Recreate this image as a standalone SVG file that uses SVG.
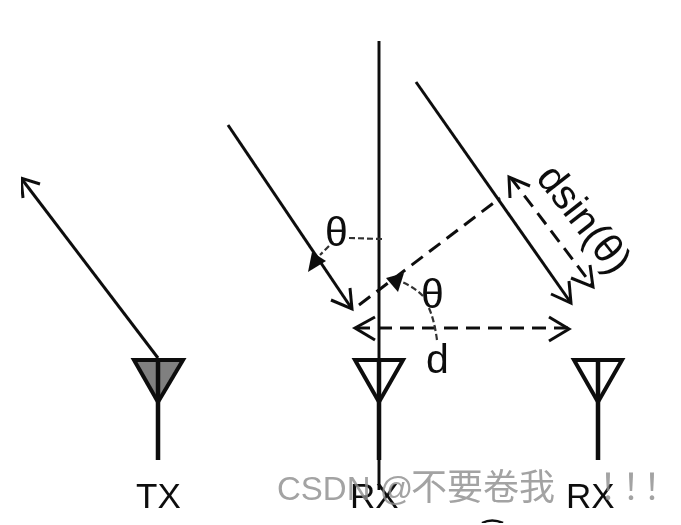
<svg xmlns="http://www.w3.org/2000/svg" width="681" height="525" viewBox="0 0 681 525">
<style>
text{font-family:"Liberation Sans",Arial,sans-serif;font-size:35px;fill:#111}
.big{font-size:41px}
.l{fill:none;stroke:#111;stroke-width:3;stroke-linecap:butt}
.h{fill:none;stroke:#111;stroke-width:3}
.d{fill:none;stroke:#111;stroke-width:3;stroke-dasharray:14 8}
.t{fill:none;stroke:#333;stroke-width:2.2;stroke-dasharray:6 3}
.a{fill:#fff;stroke:#111;stroke-width:4;stroke-linejoin:miter}
.s{fill:none;stroke:#111;stroke-width:4.5}
.wm{font-family:"Liberation Sans","Noto Sans CJK SC",sans-serif;font-size:36px;fill:#8c8c8c;fill-opacity:.8}
.wm tspan.c{font-size:33px}
</style>
<defs><filter id="soft" x="0" y="0" width="100%" height="100%"><feGaussianBlur stdDeviation="0.7"/></filter></defs>
<rect width="681" height="525" fill="#fff"/>
<g filter="url(#soft)">
<g id="connectors">
<path class="l" d="M379 41V490"/>
<path class="l" d="M158 358L21 178"/><path class="h" d="M23 198L21 178L40 184"/>
<path class="l" d="M228 125L352 309"/><path class="h" d="M350 288L352 309L331 300"/>
<path class="l" d="M416 82L571 303"/><path class="h" d="M569 281L571 303L551 294"/>
<path class="d" d="M359 305L500 198"/>
<path class="d" d="M511 178L592 285"/><path class="h" d="M510 198L509 177L530 186"/><path class="h" d="M590 265L593 287L571 278"/>
<path class="d" d="M356 328H568"/><path class="h" d="M375 317L355 328L375 340"/><path class="h" d="M549 317L569 329L549 341"/>
<path class="t" d="M382 239L349 238"/><path class="t" d="M329 246L320 255"/>
<path fill="#111" d="M308 272L312 252L326 261Z"/>
<path class="t" d="M437 340Q434 318 428 306"/><path class="t" d="M423 296Q414 287 402 282"/>
<path fill="#111" d="M386 278L404 273L398 292Z"/>
</g>
<g id="tx"><path d="M134 360H183L158 402Z" fill="#808080" stroke="#111" stroke-width="4"/><path class="s" d="M158 360V460"/><text x="136" y="508">TX</text></g>
<g id="rx1"><path class="a" d="M355 360H403L379 402Z"/><path class="s" d="M379 360V460"/><text x="350" y="508">RX</text></g>
<g id="rx2"><path class="a" d="M574 360H622L598 402Z"/><path class="s" d="M598 360V460"/><text x="566" y="508">RX</text></g>
<g id="labels">
<text class="big" x="325" y="246">θ</text>
<text class="big" x="421" y="308">θ</text>
<text class="big" x="426" y="373">d</text>
<text class="big" transform="translate(535 178) rotate(52)">dsin(θ)</text>
<path d="M482 523Q492 518 503 523" fill="none" stroke="#111" stroke-width="2.5"/>
</g>
<text class="wm" y="500"><tspan class="c" x="277">CSDN @</tspan><tspan x="411">不要卷我</tspan><tspan x="599">！</tspan><tspan x="622">！</tspan><tspan x="643">！</tspan></text>
</g>
</svg>
